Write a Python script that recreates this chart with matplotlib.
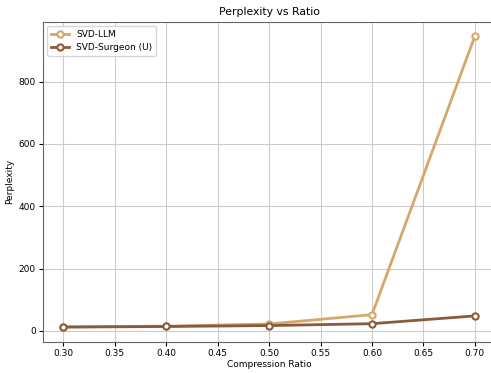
import matplotlib.pyplot as plt

ratios = [0.3, 0.4, 0.5, 0.6, 0.7]
svd_llm = [13, 15, 22, 52, 946]
svd_surgeon = [12, 14, 17, 23, 48]

plt.rcParams['font.size'] = 6.5

fig, ax = plt.subplots(figsize=(4.91, 3.73), dpi=100)
ax.plot(ratios, svd_llm, '-o', color='#D4A76A', lw=2, ms=4.5, mew=1.5,
        mfc='white', label='SVD-LLM')
ax.plot(ratios, svd_surgeon, '-o', color='#8B5A3C', lw=2, ms=4.5, mew=1.5,
        mfc='white', label='SVD-Surgeon (U)')
ax.set_xlabel('Compression Ratio', labelpad=2)
ax.set_ylabel('Perplexity', labelpad=3)
ax.set_title('Perplexity vs Ratio', pad=5)
ax.tick_params(length=3, pad=2)
ax.grid(True, color='#cccccc', lw=0.8)
ax.set_axisbelow(True)
for s in ax.spines.values():
    s.set_color('#666666')
ax.legend(loc='upper left')
fig.subplots_adjust(left=0.087, right=1.009, top=0.942, bottom=0.084)
fig.savefig('out.png')
